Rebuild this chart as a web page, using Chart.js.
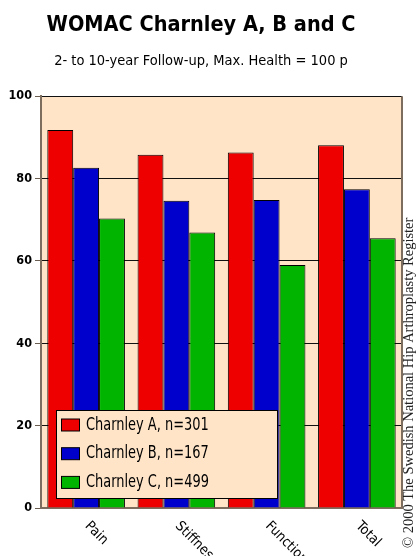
<!DOCTYPE html>
<html>
<head>
<meta charset="utf-8">
<script src="https://cdn.jsdelivr.net/npm/chart.js@4"></script>
<style>
  html, body { margin: 0; padding: 0; background: #fff; }
  #wrap { width: 417px; height: 556px; }
</style>
</head>
<body>
<div id="wrap"><canvas id="womacChart" width="417" height="556"></canvas></div>
<script>
// data
const categories = ['Pain', 'Stiffness', 'Function', 'Total'];
const charnleyA = [91.8, 85.8, 86.3, 88.1];
const charnleyB = [82.6, 74.6, 74.8, 77.4];
const charnleyC = [70.3, 66.9, 59.0, 65.5];
const seriesNames = ['Charnley A, n=301', 'Charnley B, n=167', 'Charnley C, n=499'];
const seriesColors = ['#ee0000', '#0000cc', '#00b400'];
const yTicks = [0, 20, 40, 60, 80, 100];

const narrow = '"Liberation Sans Narrow", "DejaVu Sans Condensed", sans-serif';
const peach = '#ffe4c8';

// peach plot background + right frame line
const plotBackground = {
    id: 'plotBackground',
    beforeDraw(chart) {
        const a = chart.chartArea;
        const c = chart.ctx;
        c.save();
        c.fillStyle = peach;
        c.fillRect(a.left, a.top, a.right - a.left, a.bottom - a.top);
        c.restore();
    },
    afterDraw(chart) {
        const a = chart.chartArea;
        const c = chart.ctx;
        c.save();
        c.strokeStyle = '#7d6d5f';
        c.lineWidth = 2;
        c.beginPath();
        c.moveTo(a.right, a.top);
        c.lineTo(a.right, a.bottom);
        c.stroke();
        c.restore();
    }
};

// rotated category labels, reading downwards to the right
const slantLabels = {
    id: 'slantLabels',
    afterDraw(chart) {
        const x = chart.scales.x;
        const c = chart.ctx;
        c.save();
        c.font = '14px ' + narrow;
        c.fillStyle = '#000';
        c.textAlign = 'left';
        c.textBaseline = 'top';
        categories.forEach((lab, i) => {
            c.save();
            c.translate(x.getPixelForTick(i) + 6, x.bottom + 3);
            c.rotate(Math.PI / 4);
            c.fillText(lab, 0, 0);
            c.restore();
        });
        c.restore();
    }
};

// legend box inside the plot, lower left
const boxLegend = {
    id: 'boxLegend',
    afterDraw(chart) {
        const a = chart.chartArea;
        const c = chart.ctx;
        const left = a.left + 15, top = a.bottom - 98;
        const w = 221, h = 88;
        c.save();
        c.fillStyle = peach;
        c.fillRect(left, top, w, h);
        c.strokeStyle = '#000';
        c.lineWidth = 1;
        c.strokeRect(left + 0.5, top + 0.5, w, h);
        c.textBaseline = 'middle';
        chart.data.datasets.forEach((ds, i) => {
            const cy = top + 15 + i * 28.7;
            c.fillStyle = ds.backgroundColor;
            c.fillRect(left + 5.5, cy - 6, 18, 12);
            c.strokeRect(left + 5.5, cy - 6, 18, 12);
            // narrow the text to look like the condensed face
            c.save();
            c.translate(left + 30, cy);
            c.scale(0.8, 1);
            c.font = '18px ' + narrow;
            c.fillStyle = '#000';
            c.fillText(ds.label, 0, 0);
            c.restore();
        });
        c.restore();
    }
};

// copyright note running up the right edge
const copyright = {
    id: 'copyright',
    afterDraw(chart) {
        const c = chart.ctx;
        c.save();
        c.translate(409, 548);
        c.rotate(-Math.PI / 2);
        c.font = '14.5px "Liberation Serif", serif';
        c.fillStyle = '#222';
        c.textAlign = 'left';
        c.textBaseline = 'middle';
        c.fillText('\u00a9 2000 The Swedish National Hip Arthroplasty Register', 0, 0);
        c.restore();
    }
};

const datasets = [charnleyA, charnleyB, charnleyC].map((vals, i) => ({
    label: seriesNames[i],
    data: vals,
    backgroundColor: seriesColors[i],
    borderColor: '#000',
    borderWidth: 1,
    borderSkipped: 'bottom'
}));

new Chart(document.getElementById('womacChart'), {
    type: 'bar',
    data: { labels: categories, datasets: datasets },
    options: {
        responsive: false,
        animation: false,
        layout: { padding: { left: 0, right: 15, top: 0, bottom: 40 } },
        datasets: { bar: { categoryPercentage: 0.86, barPercentage: 1.0 } },
        plugins: {
            legend: { display: false },
            tooltip: { enabled: false },
            title: {
                display: true,
                text: 'WOMAC Charnley A, B and C',
                color: '#000',
                font: { family: narrow, size: 21.5, weight: 'bold', lineHeight: 1.2 },
                padding: { top: 12.5, bottom: 7 }
            },
            subtitle: {
                display: true,
                text: '2- to 10-year Follow-up, Max. Health = 100 p',
                color: '#000',
                font: { family: narrow, size: 14.5, lineHeight: 1.2 },
                padding: { top: 7, bottom: 26.5 }
            }
        },
        scales: {
            x: {
                grid: { display: false },
                border: { display: true, color: '#7d6d5f', width: 2 },
                ticks: { display: false }
            },
            y: {
                min: 0,
                max: 100,
                afterBuildTicks(scale) {
                    scale.ticks = yTicks.map(v => ({ value: v }));
                },
                afterFit(scale) { scale.width = 41; },
                grid: { color: '#111', lineWidth: 1, tickLength: 6, tickColor: '#6b5d50' },
                border: { display: true, color: '#7d6d5f', width: 2 },
                ticks: {
                    color: '#000',
                    padding: 3,
                    font: { family: narrow, size: 12.5, weight: 'bold' }
                }
            }
        }
    },
    plugins: [plotBackground, slantLabels, boxLegend, copyright]
});
</script>
</body>
</html>
